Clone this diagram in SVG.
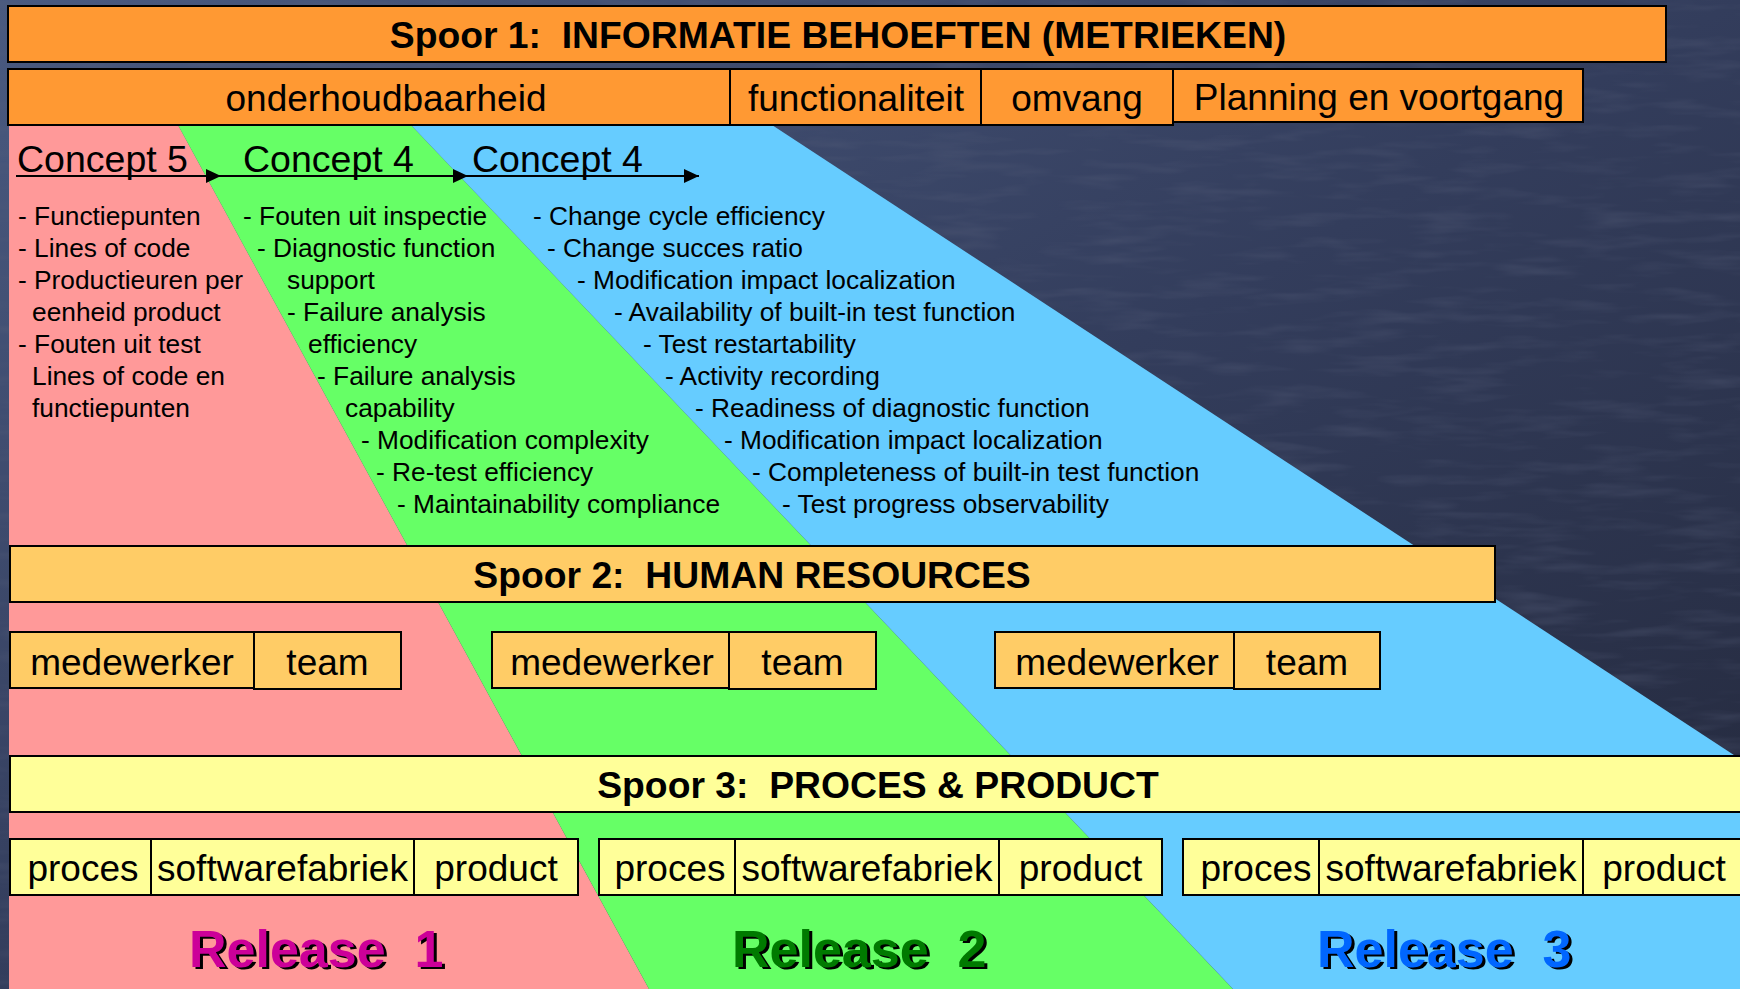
<svg xmlns="http://www.w3.org/2000/svg" width="1740" height="989" viewBox="0 0 1740 989">
<style>
text{font-family:"Liberation Sans",Arial,sans-serif;fill:#000;white-space:pre}
.t{font-size:37.3px;font-weight:bold;text-anchor:middle}
.m{font-size:37px;text-anchor:middle}
.c{font-size:37.5px}
.b{font-size:26.3px}
.box{stroke:#000;stroke-width:2}
.or{fill:#FF9933}
.ye{fill:#FFCC66}
.lt{fill:#FFFF99}
.rel{font-size:52px;font-weight:bold}
</style>
<defs>
<linearGradient id="bg" x1="0" y1="0" x2="1" y2="1">
<stop offset="0" stop-color="#4a5a80"/>
<stop offset="0.5" stop-color="#333d5c"/>
<stop offset="1" stop-color="#23283b"/>
</linearGradient>
<filter id="tex" x="0" y="0" width="100%" height="100%">
<feTurbulence type="fractalNoise" baseFrequency="0.012 0.08" numOctaves="3" seed="7"/>
<feColorMatrix type="matrix" values="0 0 0 0 0.1  0 0 0 0 0.12  0 0 0 0 0.2  0 0 0 -1.4 0.75"/>
</filter>
<marker id="ah" markerUnits="userSpaceOnUse" markerWidth="16" markerHeight="15" refX="15" refY="7" orient="auto">
<path d="M0,0 L15,7 L0,14 z" fill="#000"/>
</marker>
</defs>
<g id="background">
<rect width="1740" height="989" fill="url(#bg)"/>
<rect width="1740" height="989" filter="url(#tex)" opacity="0.5"/>
</g>
<g id="bands">
<polygon points="9,125 178,125 649,989 9,989" fill="#FF9999"/>
<polygon points="178,125 411,125 1233,989 649,989" fill="#66FF66"/>
<polygon points="411,125 772,125 1740,759 1740,989 1233,989" fill="#66CCFF"/>
</g>
<g id="spoor1">
<rect class="box or" x="8" y="6" width="1658" height="56"/>
<text class="t" x="838" y="48">Spoor 1:  INFORMATIE BEHOEFTEN (METRIEKEN)</text>
</g>
<g id="onderhoudbaarheid">
<rect class="box or" x="8" y="69" width="722" height="56"/>
<text class="m" x="386" y="111">onderhoudbaarheid</text>
</g>
<g id="functionaliteit">
<rect class="box or" x="730" y="69" width="251" height="56"/>
<text class="m" x="856" y="111">functionaliteit</text>
</g>
<g id="omvang">
<rect class="box or" x="981" y="69" width="192" height="56"/>
<text class="m" x="1077" y="111">omvang</text>
</g>
<g id="planning">
<rect class="box or" x="1173" y="69" width="410" height="53"/>
<text class="m" x="1379" y="110">Planning en voortgang</text>
</g>
<g id="concept5">
<text class="c" x="17" y="172">Concept 5</text>
<text class="b" x="18" y="225">- Functiepunten</text>
<text class="b" x="18" y="257">- Lines of code</text>
<text class="b" x="18" y="289">- Productieuren per</text>
<text class="b" x="32" y="321">eenheid product</text>
<text class="b" x="18" y="353">- Fouten uit test</text>
<text class="b" x="32" y="385">Lines of code en</text>
<text class="b" x="32" y="417">functiepunten</text>
</g>
<g id="concept4a">
<text class="c" x="243" y="172">Concept 4</text>
<text class="b" x="243" y="225">- Fouten uit inspectie</text>
<text class="b" x="257" y="257">- Diagnostic function</text>
<text class="b" x="287" y="289">support</text>
<text class="b" x="287" y="321">- Failure analysis</text>
<text class="b" x="308" y="353">efficiency</text>
<text class="b" x="317" y="385">- Failure analysis</text>
<text class="b" x="345" y="417">capability</text>
<text class="b" x="361" y="449">- Modification complexity</text>
<text class="b" x="376" y="481">- Re-test efficiency</text>
<text class="b" x="397" y="513">- Maintainability compliance</text>
</g>
<g id="concept4b">
<text class="c" x="472" y="172">Concept 4</text>
<text class="b" x="533" y="225">- Change cycle efficiency</text>
<text class="b" x="547" y="257">- Change succes ratio</text>
<text class="b" x="577" y="289">- Modification impact localization</text>
<text class="b" x="614" y="321">- Availability of built-in test function</text>
<text class="b" x="643" y="353">- Test restartability</text>
<text class="b" x="665" y="385">- Activity recording</text>
<text class="b" x="695" y="417">- Readiness of diagnostic function</text>
<text class="b" x="724" y="449">- Modification impact localization</text>
<text class="b" x="752" y="481">- Completeness of built-in test function</text>
<text class="b" x="782" y="513">- Test progress observability</text>
</g>
<g id="connectors" stroke="#000" stroke-width="2" fill="none">
<line x1="16" y1="176" x2="221" y2="176" marker-end="url(#ah)"/>
<line x1="221" y1="176" x2="468" y2="176" marker-end="url(#ah)"/>
<line x1="468" y1="176" x2="699" y2="176" marker-end="url(#ah)"/>
</g>
<g id="spoor2">
<rect class="box ye" x="10" y="546" width="1485" height="56"/>
<text class="t" x="752" y="588">Spoor 2:  HUMAN RESOURCES</text>
</g>
<g id="hr1">
<rect class="box ye" x="10" y="632" width="244" height="56"/>
<rect class="box ye" x="254" y="632" width="147" height="57"/>
<text class="m" x="132" y="675">medewerker</text>
<text class="m" x="327.5" y="675">team</text>
</g>
<g id="hr2">
<rect class="box ye" x="492" y="632" width="237" height="56"/>
<rect class="box ye" x="729" y="632" width="147" height="57"/>
<text class="m" x="612" y="675">medewerker</text>
<text class="m" x="802.5" y="675">team</text>
</g>
<g id="hr3">
<rect class="box ye" x="995" y="632" width="239" height="56"/>
<rect class="box ye" x="1234" y="632" width="146" height="57"/>
<text class="m" x="1117" y="675">medewerker</text>
<text class="m" x="1307" y="675">team</text>
</g>
<g id="spoor3">
<rect class="box lt" x="10" y="756" width="1740" height="56"/>
<text class="t" x="878" y="798">Spoor 3:  PROCES &amp; PRODUCT</text>
</g>
<g id="pp1">
<rect class="box lt" x="10" y="839" width="141" height="56"/>
<rect class="box lt" x="151" y="839" width="263" height="56"/>
<rect class="box lt" x="414" y="839" width="164" height="56"/>
<text class="m" x="83" y="881">proces</text>
<text class="m" x="282.5" y="881">softwarefabriek</text>
<text class="m" x="496" y="881">product</text>
</g>
<g id="pp2">
<rect class="box lt" x="599" y="839" width="136" height="56"/>
<rect class="box lt" x="735" y="839" width="264" height="56"/>
<rect class="box lt" x="999" y="839" width="163" height="56"/>
<text class="m" x="670" y="881">proces</text>
<text class="m" x="867" y="881">softwarefabriek</text>
<text class="m" x="1080.5" y="881">product</text>
</g>
<g id="pp3">
<rect class="box lt" x="1183" y="839" width="136" height="56"/>
<rect class="box lt" x="1319" y="839" width="264" height="56"/>
<rect class="box lt" x="1583" y="839" width="170" height="56"/>
<text class="m" x="1256" y="881">proces</text>
<text class="m" x="1451" y="881">softwarefabriek</text>
<text class="m" x="1664" y="881">product</text>
</g>
<g id="release1">
<text class="rel" x="192" y="969" style="fill:#000">Release  1</text>
<text class="rel" x="189" y="967" style="fill:#CC0099">Release  1</text>
</g>
<g id="release2">
<text class="rel" x="735" y="969" style="fill:#000">Release  2</text>
<text class="rel" x="732" y="967" style="fill:#007A00">Release  2</text>
</g>
<g id="release3">
<text class="rel" x="1320" y="969" style="fill:#000">Release  3</text>
<text class="rel" x="1317" y="967" style="fill:#0066FF">Release  3</text>
</g>
</svg>
